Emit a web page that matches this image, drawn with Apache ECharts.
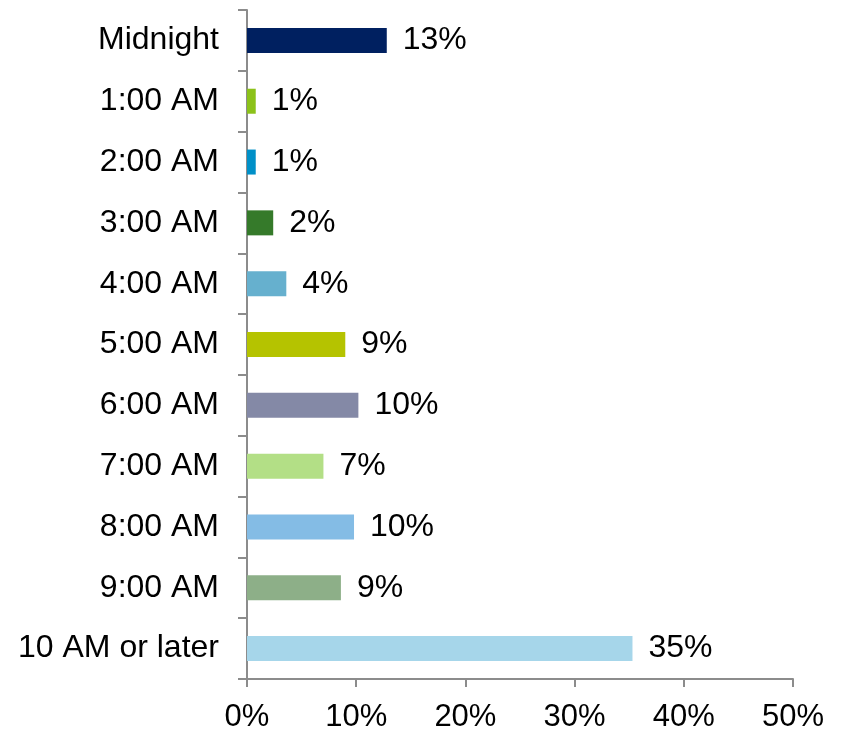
<!DOCTYPE html>
<html>
<head>
<meta charset="utf-8">
<script src="https://cdn.jsdelivr.net/npm/echarts@6/dist/echarts.min.js"></script>
<style>
  html, body { margin: 0; padding: 0; background: #fff; }
  #chart { width: 844px; height: 733px; }
</style>
</head>
<body>
<div id="chart"></div>
<script>
// Share of respondents by the hour they usually wake up
const categories = ['Midnight', '1:00 AM', '2:00 AM', '3:00 AM', '4:00 AM', '5:00 AM',
  '6:00 AM', '7:00 AM', '8:00 AM', '9:00 AM', '10 AM or later'];
const shares = [12.8, 0.8, 0.8, 2.4, 3.6, 9.0, 10.2, 7.0, 9.8, 8.6, 35.3];
const barColors = ['#002060', '#8cc21a', '#0090c8', '#357a2a', '#66b0ce', '#b5c300',
  '#8489a6', '#b3df86', '#84bce5', '#8daf88', '#a6d6ea'];
const xTicks = [0, 10, 20, 30, 40, 50];

const FONT = '"Liberation Sans", Arial, sans-serif';
const axisGray = '#8c8c8c';

const chart = echarts.init(document.getElementById('chart'), null, { renderer: 'canvas' });
chart.setOption({
  animation: false,
  grid: { left: 247, right: 51, top: 10, bottom: 53, containLabel: false },
  xAxis: {
    type: 'value',
    min: xTicks[0],
    max: xTicks[xTicks.length - 1],
    interval: xTicks[1] - xTicks[0],
    axisLine: { show: true, lineStyle: { color: axisGray, width: 2 } },
    axisTick: { show: true, length: 8, lineStyle: { color: axisGray, width: 2 } },
    splitLine: { show: false },
    axisLabel: {
      formatter: v => v + '%',
      color: '#000', fontFamily: FONT, fontSize: 31, margin: 23
    }
  },
  yAxis: {
    type: 'category',
    data: categories,
    inverse: true,
    axisLine: { show: true, lineStyle: { color: axisGray, width: 2 } },
    axisTick: { show: true, length: 9, lineStyle: { color: axisGray, width: 2 } },
    axisLabel: { color: '#000', fontFamily: FONT, fontSize: 32, margin: 28 }
  },
  series: [{
    type: 'bar',
    data: shares.map((v, i) => ({ value: v, itemStyle: { color: barColors[i] } })),
    barWidth: 25,
    label: {
      show: true,
      position: 'right',
      distance: 16,
      formatter: p => Math.round(p.value) + '%',
      color: '#000', fontFamily: FONT, fontSize: 32
    }
  }]
});
</script>
</body>
</html>
